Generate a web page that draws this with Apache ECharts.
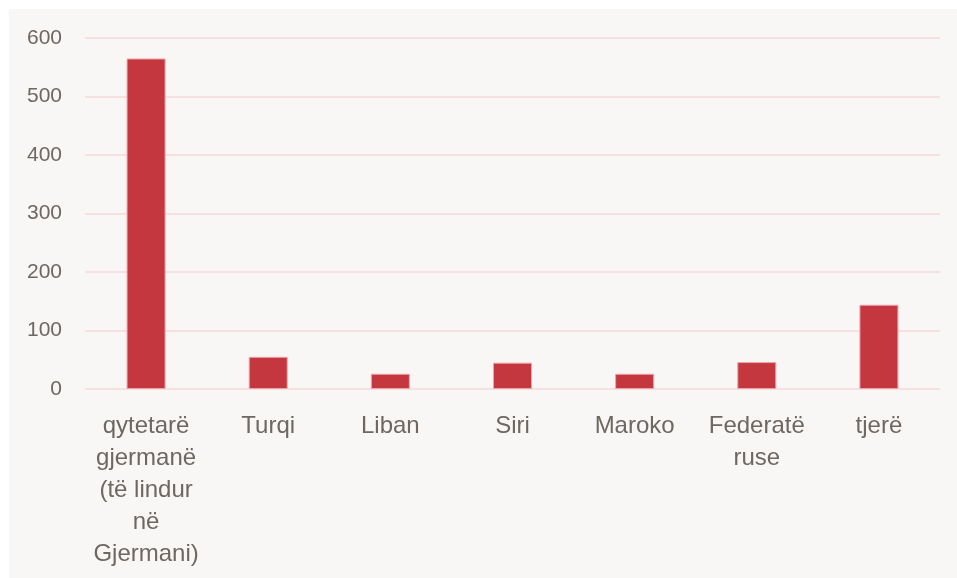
<!DOCTYPE html>
<html>
<head>
<meta charset="utf-8">
<script src="https://cdn.jsdelivr.net/npm/echarts@6/dist/echarts.min.js"></script>
<style>
html,body{margin:0;padding:0;background:#ffffff;}
#chart{width:957px;height:578px;}
</style>
</head>
<body>
<div id="chart"></div>
<script>
var categories = ["qytetarë\ngjermanë\n(të lindur\nnë\nGjermani)", "Turqi", "Liban", "Siri", "Maroko", "Federatë\nruse", "tjerë"];
var values = [565, 55, 26, 45, 26, 46, 144];
var yTicks = { min: 0, max: 600, interval: 100 };

var chart = echarts.init(document.getElementById('chart'), null, { renderer: 'canvas' });
chart.setOption({
  backgroundColor: '#ffffff',
  animation: false,
  graphic: [{
    type: 'rect', z: -10, silent: true,
    shape: { x: 9, y: 9, width: 960, height: 580 },
    style: { fill: '#f8f7f5' }
  }],
  grid: { left: 85, right: 17, top: 38, bottom: 189, containLabel: false },
  xAxis: {
    type: 'category',
    data: categories,
    boundaryGap: true,
    axisLine: { show: false },
    axisTick: { show: false },
    axisLabel: {
      interval: 0,
      margin: 21,
      color: '#6e6762',
      fontFamily: 'Liberation Sans, Arial, sans-serif',
      fontSize: 24,
      lineHeight: 32,
      align: 'center'
    }
  },
  yAxis: {
    type: 'value',
    min: yTicks.min, max: yTicks.max, interval: yTicks.interval,
    axisLine: { show: false },
    axisTick: { show: false },
    splitLine: { lineStyle: { color: '#f7e0e1', width: 2 } },
    axisLabel: {
      margin: 23,
      color: '#6e6762',
      fontFamily: 'Liberation Sans, Arial, sans-serif',
      fontSize: 21
    }
  },
  series: [{
    type: 'bar',
    data: values,
    barWidth: 39,
    itemStyle: { color: '#c4373f', borderColor: '#eea3a8', borderWidth: 1 }
  }]
});
</script>
</body>
</html>
